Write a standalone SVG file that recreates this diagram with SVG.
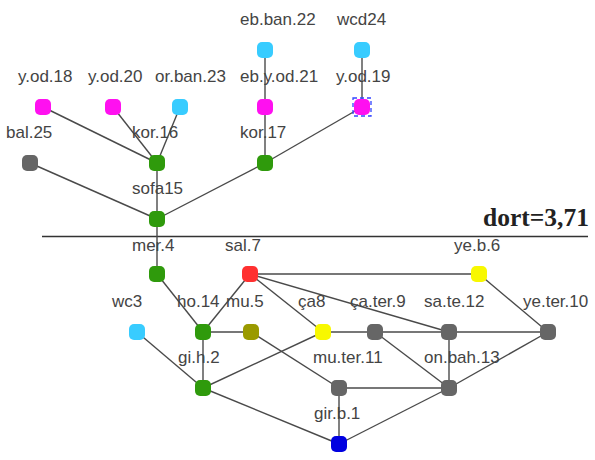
<svg xmlns="http://www.w3.org/2000/svg" width="595" height="460" viewBox="0 0 595 460">
  <style>
    .edge { stroke: #4a4a4a; stroke-width: 1.4; fill: none; }
    .sel { fill: none; stroke: #3344ff; stroke-width: 1.3; stroke-dasharray: 4,3; }
    .lbl { font-family: "Liberation Sans", Arial, sans-serif; font-size: 17px; fill: #444; }
    .green { fill: #2f9a0c; }
    .cyan { fill: #38ccff; }
    .mag { fill: #ff10f0; }
    .gray { fill: #666; }
    .red { fill: #ff3030; }
    .yellow { fill: #f8f800; }
    .olive { fill: #9a9a00; }
    .blue { fill: #0000e0; }
  </style>
  <defs>
    <rect id="n" x="-8" y="-8" width="16" height="16" rx="5"/>
  </defs>
  <rect width="595" height="460" fill="#fff"/>

  <!-- separator and score -->
  <line x1="42" y1="236.5" x2="588" y2="236.5" stroke="#333" stroke-width="1.5"/>
  <text x="589" y="226" text-anchor="end" font-family="Liberation Serif, 'Times New Roman', serif" font-weight="bold" font-size="25.5" fill="#222">dort=3,71</text>

  <g id="connectors">
    <!-- upper tree -->
    <line class="edge" x1="43" y1="107" x2="157" y2="163"/>
    <line class="edge" x1="113" y1="107" x2="157" y2="163"/>
    <line class="edge" x1="180" y1="107" x2="157" y2="163"/>
    <line class="edge" x1="157" y1="163" x2="157" y2="219"/>
    <line class="edge" x1="30" y1="163" x2="157" y2="219"/>
    <line class="edge" x1="265" y1="163" x2="157" y2="219"/>
    <line class="edge" x1="265" y1="50" x2="265" y2="107"/>
    <line class="edge" x1="265" y1="107" x2="265" y2="163"/>
    <line class="edge" x1="362" y1="50" x2="362" y2="107"/>
    <line class="edge" x1="362" y1="107" x2="265" y2="163"/>
    <line class="edge" x1="157" y1="219" x2="157" y2="274"/>
    <!-- lower graph -->
    <line class="edge" x1="157" y1="274" x2="203" y2="332"/>
    <line class="edge" x1="250" y1="274" x2="203" y2="332"/>
    <line class="edge" x1="250" y1="274" x2="479" y2="274"/>
    <line class="edge" x1="250" y1="274" x2="323" y2="332"/>
    <line class="edge" x1="250" y1="274" x2="449" y2="332"/>
    <line class="edge" x1="203" y1="332" x2="251" y2="332"/>
    <line class="edge" x1="203" y1="332" x2="203" y2="388"/>
    <line class="edge" x1="137" y1="332" x2="203" y2="388"/>
    <line class="edge" x1="251" y1="332" x2="339" y2="388"/>
    <line class="edge" x1="203" y1="388" x2="323" y2="332"/>
    <line class="edge" x1="203" y1="388" x2="339" y2="444"/>
    <line class="edge" x1="323" y1="332" x2="375" y2="332"/>
    <line class="edge" x1="375" y1="332" x2="449" y2="332"/>
    <line class="edge" x1="449" y1="332" x2="548" y2="332"/>
    <line class="edge" x1="479" y1="274" x2="548" y2="332"/>
    <line class="edge" x1="375" y1="332" x2="449" y2="388"/>
    <line class="edge" x1="449" y1="332" x2="449" y2="388"/>
    <line class="edge" x1="548" y1="332" x2="449" y2="388"/>
    <line class="edge" x1="339" y1="388" x2="449" y2="388"/>
    <line class="edge" x1="339" y1="388" x2="339" y2="444"/>
    <line class="edge" x1="449" y1="388" x2="339" y2="444"/>
  </g>

  <g id="eb.ban.22" class="node"><use href="#n" x="265" y="50" class="cyan"/><text class="lbl" x="240" y="25">eb.ban.22</text></g>
  <g id="wcd24" class="node"><use href="#n" x="362" y="50" class="cyan"/><text class="lbl" x="337" y="25">wcd24</text></g>
  <g id="y.od.18" class="node"><use href="#n" x="43" y="107" class="mag"/><text class="lbl" x="18" y="82">y.od.18</text></g>
  <g id="y.od.20" class="node"><use href="#n" x="113" y="107" class="mag"/><text class="lbl" x="88" y="82">y.od.20</text></g>
  <g id="or.ban.23" class="node"><use href="#n" x="180" y="107" class="cyan"/><text class="lbl" x="155" y="82">or.ban.23</text></g>
  <g id="eb.y.od.21" class="node"><use href="#n" x="265" y="107" class="mag"/><text class="lbl" x="240" y="82">eb.y.od.21</text></g>
  <g id="y.od.19" class="node"><use href="#n" x="362" y="107" class="mag"/>
    <!-- selection frame -->
    <rect class="sel" x="353" y="98" width="18" height="18"/>
    <text class="lbl" x="336" y="82">y.od.19</text></g>
  <g id="bal.25" class="node"><use href="#n" x="30" y="163" class="gray"/><text class="lbl" x="6" y="138">bal.25</text></g>
  <g id="kor.16" class="node"><use href="#n" x="157" y="163" class="green"/><text class="lbl" x="132" y="138">kor.16</text></g>
  <g id="kor.17" class="node"><use href="#n" x="265" y="163" class="green"/><text class="lbl" x="240" y="138">kor.17</text></g>
  <g id="sofa15" class="node"><use href="#n" x="157" y="219" class="green"/><text class="lbl" x="132" y="194">sofa15</text></g>

  <g id="mer.4" class="node"><use href="#n" x="157" y="274" class="green"/><text class="lbl" x="132" y="251">mer.4</text></g>
  <g id="sal.7" class="node"><use href="#n" x="250" y="274" class="red"/><text class="lbl" x="225" y="251">sal.7</text></g>
  <g id="ye.b.6" class="node"><use href="#n" x="479" y="274" class="yellow"/><text class="lbl" x="454" y="251">ye.b.6</text></g>
  <g id="wc3" class="node"><use href="#n" x="137" y="332" class="cyan"/><text class="lbl" x="112" y="307">wc3</text></g>
  <g id="ho.14" class="node"><use href="#n" x="203" y="332" class="green"/><text class="lbl" x="177" y="307">ho.14</text></g>
  <g id="mu.5" class="node"><use href="#n" x="251" y="332" class="olive"/><text class="lbl" x="226" y="307">mu.5</text></g>
  <g id="ca8" class="node"><use href="#n" x="323" y="332" class="yellow"/><text class="lbl" x="298" y="307">ça8</text></g>
  <g id="ca.ter.9" class="node"><use href="#n" x="375" y="332" class="gray"/><text class="lbl" x="350" y="307">ça.ter.9</text></g>
  <g id="sa.te.12" class="node"><use href="#n" x="449" y="332" class="gray"/><text class="lbl" x="424" y="307">sa.te.12</text></g>
  <g id="ye.ter.10" class="node"><use href="#n" x="548" y="332" class="gray"/><text class="lbl" x="523" y="307">ye.ter.10</text></g>
  <g id="gi.h.2" class="node"><use href="#n" x="203" y="388" class="green"/><text class="lbl" x="178" y="363">gi.h.2</text></g>
  <g id="mu.ter.11" class="node"><use href="#n" x="339" y="388" class="gray"/><text class="lbl" x="313" y="363">mu.ter.11</text></g>
  <g id="on.bah.13" class="node"><use href="#n" x="449" y="388" class="gray"/><text class="lbl" x="424" y="363">on.bah.13</text></g>
  <g id="gir.b.1" class="node"><use href="#n" x="339" y="444" class="blue"/><text class="lbl" x="314" y="419">gir.b.1</text></g>
</svg>
